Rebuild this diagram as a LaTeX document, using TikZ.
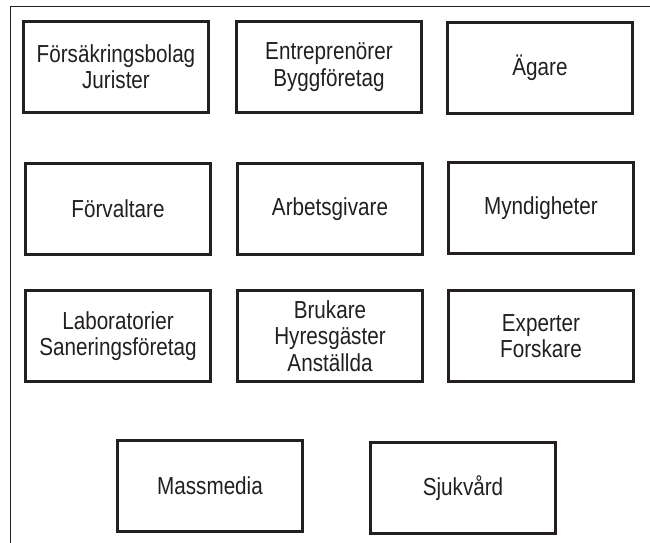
\documentclass[tikz,border=0pt]{standalone}
\usepackage{fontspec}
\setmainfont[FakeStretch=0.84]{Liberation Sans}
\definecolor{ink}{HTML}{231F20}
\begin{document}
\begin{tikzpicture}[x=0.03cm, y=-0.03cm,
                    actor node/.style={rectangle,draw=ink,line width=2pt,minimum width=5.55cm,minimum height=2.73cm,
                                       align=center,text=ink,font=\fontsize{21}{22.5}\selectfont}]
  \useasboundingbox (0,0) rectangle (650,543);
  % outer frame, only left and top visible
  \draw[ink, line width=0.8pt] (10,543) -- (10,6) -- (650,6);

  \node[actor node] (forsakring) at (116,67)  {Försäkringsbolag\\Jurister};
  \node[actor node] (entreprenor) at (329,67) {Entreprenörer\\Byggföretag};
  \node[actor node] (agare) at (540,68)      {Ägare};

  \node[actor node] (forvaltare) at (118,209)   {Förvaltare};
  \node[actor node] (arbetsgivare) at (330,209) {Arbetsgivare};
  \node[actor node] (myndighet) at (541,208)    {Myndigheter};

  \node[actor node] (labb) at (118,336)    {Laboratorier\\Saneringsföretag};
  \node[actor node] (brukare) at (330,336) {Brukare\\Hyresgäster\\Anställda};
  \node[actor node] (expert) at (541,336)  {Experter\\Forskare};

  \node[actor node] (massmedia) at (210,486) {Massmedia};
  \node[actor node] (sjukvard) at (463,488)  {Sjukvård};
\end{tikzpicture}
\end{document}
